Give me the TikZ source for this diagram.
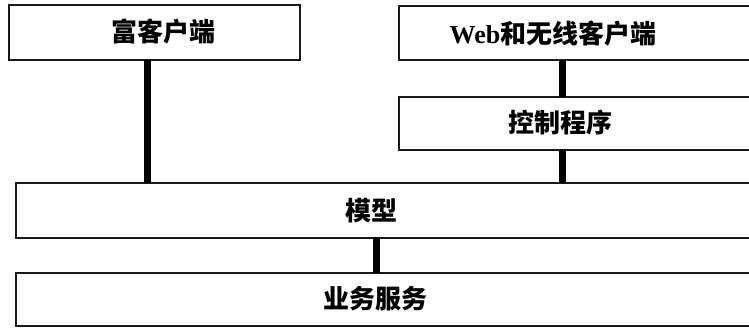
\documentclass[tikz,border=0pt]{standalone}
\usepackage{fontspec}
\newfontfamily\cjk{Noto Sans CJK SC}
\newfontfamily\webfont{Liberation Serif}
\usetikzlibrary{calc}
\begin{document}
\begin{tikzpicture}[x=1pt,y=1pt,
  layer/.style={draw=black!90, line width=2pt, fill=white, inner sep=0pt, outer sep=0pt},
  lbl/.style={font=\cjk\bfseries\fontsize{26}{26}\selectfont, inner sep=0pt},
  conn/.style={line width=7pt, black}]
\useasboundingbox (0,0) rectangle (749,-328);
\fill[white] (0,0) rectangle (749,-328);
% boxes (left, top, right, bottom in px)
\node[layer, minimum width=291pt, minimum height=55pt] (rich) at (154.5,-32.5) {};
\node[layer, minimum width=401pt, minimum height=54pt] (web) at (599.5,-33) {};
\node[layer, minimum width=401pt, minimum height=53pt] (ctrl) at (599.5,-123.5) {};
\node[layer, minimum width=784pt, minimum height=55pt] (model) at (408,-210.5) {};
\node[layer, minimum width=784pt, minimum height=53pt] (biz) at (408,-299.5) {};
% texts
\node[lbl] (richt) at (163,-32) {富客户端};
\node[lbl] (webt) at (553,-34) {{\webfont\bfseries Web}和无线客户端};
\node[lbl] (ctrlt) at (560,-123) {控制程序};
\node[lbl] (modelt) at (371,-211) {模型};
\node[lbl] (bizt) at (375,-299) {业务服务};
% connectors
\draw[conn] ($(rich.south)+(-7.5,0)$) -- ($(model.north)+(-261,0)$);
\draw[conn] ($(web.south)+(-37.5,0)$) -- ($(ctrl.north)+(-37.5,0)$);
\draw[conn] ($(ctrl.south)+(-37.5,0)$) -- ($(model.north)+(154,0)$);
\draw[conn] ($(model.south)+(-32,0)$) -- ($(biz.north)+(-32,0)$);
\end{tikzpicture}
\end{document}
